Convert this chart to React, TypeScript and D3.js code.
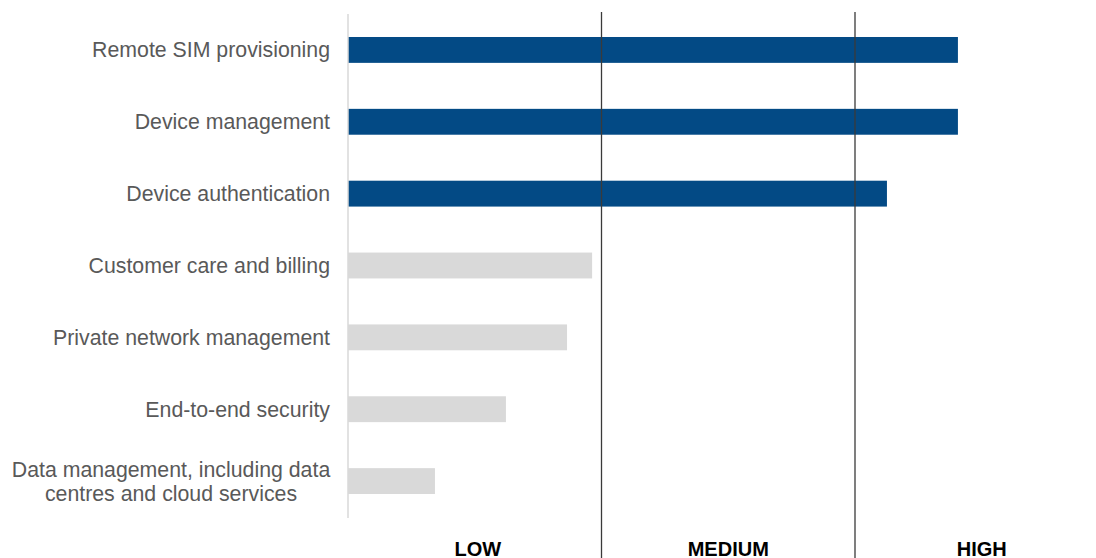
import React from "react";
import * as d3 from "d3";

const categories = [
  "Remote SIM provisioning",
  "Device management",
  "Device authentication",
  "Customer care and billing",
  "Private network management",
  "End-to-end security",
  "Data management, including data|centres and cloud services",
];
const values = [2.406, 2.406, 2.126, 0.963, 0.864, 0.623, 0.343];
const highlighted = [true, true, true, false, false, false, false];
const levelLabels = ["LOW", "MEDIUM", "HIGH"];
const levelTicks = [1, 2];

const W = 1096;
const H = 558;
const FS = 21.3;

export default function App() {
  const x = d3.scaleLinear().domain([0, 3]).range([348, 348 + 3 * 253.5]);
  const y = d3
    .scaleBand<string>()
    .domain(categories)
    .range([14, 517])
    .paddingInner(0.64)
    .paddingOuter(0.32);

  return (
    <svg
      width={W}
      height={H}
      style={{ position: "absolute", left: 0, top: 0, fontFamily: "Liberation Sans, Arial, sans-serif" }}
    >
      {categories.map((c, i) => (
        <rect
          key={c}
          x={x(0)}
          y={y(c)!}
          width={x(values[i]) - x(0)}
          height={y.bandwidth()}
          fill={highlighted[i] ? "#034a85" : "#d9d9d9"}
        />
      ))}
      <line x1={x(0)} x2={x(0)} y1={14} y2={518} stroke="#d9d9d9" strokeWidth={1.5} />
      {levelTicks.map((t) => (
        <line key={t} x1={x(t)} x2={x(t)} y1={12} y2={H} stroke="#3a3a3a" strokeWidth={1.3} />
      ))}
      {categories.map((c) => {
        const lines = c.split("|");
        const cy = y(c)! + y.bandwidth() / 2;
        const lh = 24;
        const multi = lines.length > 1;
        return (
          <text
            key={c}
            textAnchor={multi ? "middle" : "end"}
            fill="#595959"
            fontSize={FS}
          >
            {lines.map((l, j) => (
              <tspan
                key={j}
                x={multi ? 171 : 330}
                y={cy + (j - (lines.length - 1) / 2) * lh + FS * 0.35}
              >
                {l}
              </tspan>
            ))}
          </text>
        );
      })}
      {levelLabels.map((l, i) => (
        <text
          key={l}
          x={(x(i) + x(i + 1)) / 2 + (i === 0 ? 3 : 0)}
          y={555.5}
          textAnchor="middle"
          fontWeight="bold"
          fontSize={20}
          fill="#000"
        >
          {l}
        </text>
      ))}
    </svg>
  );
}
